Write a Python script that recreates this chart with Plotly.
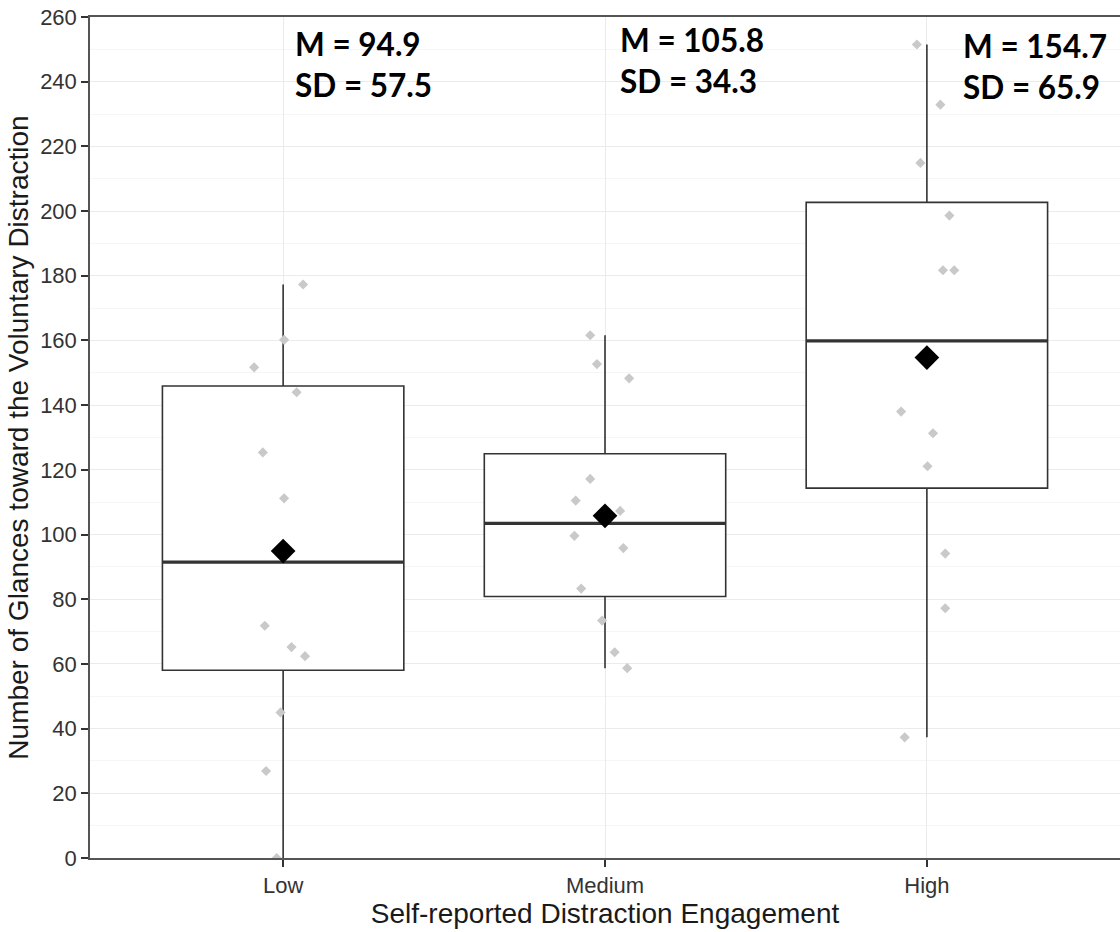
import numpy as np
import plotly.graph_objects as go

# Engagement groups (x categories)
categories = ["Low", "Medium", "High"]

# Number of glances per participant, by group
low_vals = [177.3, 160.2, 151.7, 144.0, 125.4, 111.2, 71.8, 65.2, 62.4, 45.0, 26.9, 0.0]
medium_vals = [161.6, 152.7, 148.3, 117.2, 110.5, 107.3, 99.6, 95.8, 83.3, 73.4, 63.6, 58.7]
high_vals = [251.5, 232.9, 214.9, 198.6, 181.7, 181.7, 138.0, 131.3, 121.1, 94.1, 77.2, 37.3]

# Horizontal jitter of each point (category units)
low_jitter = [0.062, 0.003, -0.090, 0.042, -0.063, 0.003, -0.057, 0.026, 0.068, -0.008, -0.053, -0.020]
medium_jitter = [-0.046, -0.025, 0.075, -0.046, -0.091, 0.047, -0.095, 0.057, -0.074, -0.009, 0.030, 0.069]
high_jitter = [-0.031, 0.042, -0.020, 0.070, 0.050, 0.085, -0.080, 0.019, 0.002, 0.057, 0.057, -0.069]

# Group means and standard deviations
means = [94.9, 105.8, 154.7]
sds = [57.5, 34.3, 65.9]

groups = [low_vals, medium_vals, high_vals]
jitters = [low_jitter, medium_jitter, high_jitter]

BOX_W = 0.75
LINE_C = "#333333"

fig = go.Figure()


def box_stats(v):
    v = np.asarray(v, dtype=float)
    q1, med, q3 = np.percentile(v, [25, 50, 75])
    iqr = q3 - q1
    lo = v[v >= q1 - 1.5 * iqr].min()
    hi = v[v <= q3 + 1.5 * iqr].max()
    return q1, med, q3, lo, hi


for i, vals in enumerate(groups):
    q1, med, q3, lo, hi = box_stats(vals)
    fig.add_trace(go.Box(
        x=[i], q1=[q1], median=[med], q3=[q3],
        lowerfence=[lo], upperfence=[hi],
        width=BOX_W, whiskerwidth=0,
        fillcolor="white",
        line=dict(color=LINE_C, width=1.6),
        boxpoints=False, showlegend=False, hoverinfo="skip",
    ))
    # thicker median bar
    fig.add_trace(go.Scatter(
        x=[i - BOX_W / 2, i + BOX_W / 2], y=[med, med],
        mode="lines", line=dict(color=LINE_C, width=3.2),
        showlegend=False, hoverinfo="skip",
    ))

# jittered individual observations
for i, (vals, jit) in enumerate(zip(groups, jitters)):
    fig.add_trace(go.Scatter(
        x=[i + j for j in jit], y=vals, mode="markers",
        marker=dict(symbol="diamond", size=7.8, color="#c9c9c9"),
        showlegend=False, hoverinfo="skip",
    ))

# group means
fig.add_trace(go.Scatter(
    x=list(range(len(categories))), y=means, mode="markers",
    marker=dict(symbol="diamond", size=19, color="black"),
    showlegend=False, hoverinfo="skip",
))

# mean / SD labels, offset to the right of each category
label_pos = [(0.03, 258.3), (0.041, 259.3), (0.105, 257.6)]
for i, ((dx, ly), m, s) in enumerate(zip(label_pos, means, sds)):
    fig.add_annotation(
        x=i + dx, y=ly, xref="x", yref="y",
        text=f"M = {m:.1f}<br>SD = {s:.1f}",
        showarrow=False, xanchor="left", yanchor="top", align="left",
        font=dict(family="Lato", size=31.5, color="black", weight="bold"),
    )

tick_font = dict(family="Liberation Sans", size=22, color="#333333")
title_font = dict(family="Liberation Sans", size=28, color="#1a1a1a")

fig.update_layout(
    width=1120, height=932,
    margin=dict(l=90, r=0, t=17, b=74),
    paper_bgcolor="white", plot_bgcolor="white",
    showlegend=False,
)

fig.update_xaxes(
    range=[-0.6, 2.6],
    tickmode="array", tickvals=list(range(len(categories))), ticktext=categories,
    showgrid=True, gridcolor="#ebebeb", gridwidth=1.2,
    showline=True, linecolor="#555555", linewidth=1.5, mirror=True,
    ticks="outside", ticklen=7, tickwidth=1.5, tickcolor="#333333",
    tickfont=tick_font, zeroline=False,
    title=dict(text="Self-reported Distraction Engagement", font=title_font, standoff=2),
)

fig.update_yaxes(
    range=[0, 260],
    tickmode="linear", tick0=0, dtick=20,
    showgrid=True, gridcolor="#ebebeb", gridwidth=1.2,
    minor=dict(dtick=10, tick0=0, showgrid=True, gridcolor="#f6f6f6", gridwidth=1),
    showline=True, linecolor="#555555", linewidth=1.5,
    ticks="outside", ticklen=7, tickwidth=1.5, tickcolor="#333333",
    tickfont=tick_font, zeroline=False,
    title=dict(text="Number of Glances toward the Voluntary Distraction", font=title_font, standoff=3),
)

fig.write_html("out.html")
